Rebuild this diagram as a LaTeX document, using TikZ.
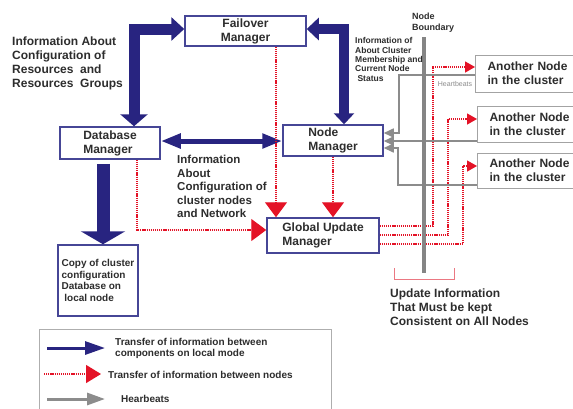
\documentclass[tikz,border=0pt]{standalone}
\usepackage{fontspec}
\setmainfont{Liberation Sans}
\usetikzlibrary{arrows.meta,calc}
\definecolor{navy}{RGB}{40,36,128}
\definecolor{boxblue}{RGB}{70,70,150}
\definecolor{rd}{RGB}{228,18,38}
\definecolor{hbgray}{RGB}{140,140,140}
\definecolor{txt}{RGB}{45,45,45}
\definecolor{brk}{RGB}{235,120,130}
\tikzset{
  bx/.style={draw=boxblue,line width=1.5bp,fill=white,inner sep=0,text=txt,
     font=\bfseries\fontsize{12bp}{14bp}\selectfont},
  anode/.style={draw=hbgray!80,line width=1bp,fill=white,inner ysep=0,inner xsep=12bp,
     text width=80bp,align=left,text=txt,font=\bfseries\fontsize{12bp}{14bp}\selectfont},
  t12/.style={inner sep=0,align=left,text=txt,font=\bfseries\fontsize{12bp}{13.7bp}\selectfont},
  t115/.style={inner sep=0,align=left,text=txt,font=\bfseries\fontsize{11.5bp}{13.5bp}\selectfont},
  t10/.style={inner sep=0,align=left,text=txt,font=\bfseries\fontsize{10bp}{11.4bp}\selectfont},
  t9/.style={inner sep=0,align=left,text=txt,font=\bfseries\fontsize{9bp}{11bp}\selectfont},
  t85/.style={inner sep=0,align=left,text=txt,font=\bfseries\fontsize{8.5bp}{9.3bp}\selectfont},
  bigblue/.style={draw=navy,line width=#1,line join=miter},
  reddot/.style={draw=rd,line width=1.3bp,dash pattern=on 1.2bp off 0.9bp},
  bighead/.style={-{Triangle[width=22bp,length=15bp,fill=rd]}},
  smallhead/.style={-{Triangle[width=11bp,length=10bp,fill=rd]}},
  hb/.style={draw=hbgray,line width=1.6bp,-{Triangle[width=9bp,length=10bp]}},
}
\begin{document}
\begin{tikzpicture}[x=1bp,y=-1bp]
\useasboundingbox[fill=white] (0,0) rectangle (573,408);

% boxes
\node[bx,minimum width=121bp,minimum height=30bp,align=center] (fm) at (245.5,31) {Failover\\Manager};
\node[bx,minimum width=100bp,minimum height=32bp,align=left] (dm) at (110,143) {Database\\Manager};
\node[bx,minimum width=100bp,minimum height=31bp,align=left] (nm) at (333,140.5) {Node\\Manager};
\node[bx,minimum width=112bp,minimum height=35bp,align=left] (gum) at (323,235.5) {Global Update\\Manager};
\node[bx,minimum width=80bp,minimum height=71bp,align=left,font=\bfseries\fontsize{10bp}{11.4bp}\selectfont] (cp) at (98,280.5) {Copy of cluster\\configuration\\Database on\\\ local node};

\node[anode,minimum height=37bp,anchor=west] (an1) at (475,73.5) {Another Node\\in the cluster};
\node[anode,minimum height=36bp,anchor=west] (an2) at (477,124) {Another Node\\in the cluster};
\node[anode,minimum height=35bp,anchor=west] (an3) at (477,170.5) {Another Node\\in the cluster};

% blue arrows
\draw[bigblue=11bp,{Triangle[width=23bp,length=13bp]}-{Triangle[width=27bp,length=12bp]}]
  ([yshift=2bp]fm.west) -| ([xshift=24bp]dm.north);
\draw[bigblue=10bp,{Triangle[width=22bp,length=12bp]}-{Triangle[width=20bp,length=11bp]}]
  ([yshift=2bp]fm.east) -| ([xshift=11bp]nm.north);
\draw[bigblue=5bp,{Triangle[width=14bp,length=20bp]}-{Triangle[width=14bp,length=20bp]}]
  ([yshift=2bp]dm.east) -- ([yshift=2bp]dm.east -| nm.west);
\draw[bigblue=13bp,-{Triangle[width=44bp,length=13bp]}]
  ([xshift=-7bp,yshift=-4bp]dm.south) coordinate (d1) -- (d1 |- cp.north);

% red dotted arrows
\draw[reddot,bighead] ([xshift=30.5bp]fm.south) coordinate (r1) -- (r1 |- gum.north);
\draw[reddot,bighead] (nm.south) -- (nm.south |- gum.north);
\draw[reddot,bighead] ([xshift=27bp]dm.south) |- ([yshift=5.5bp]gum.west);
\draw[reddot,smallhead] ([yshift=9.5bp]gum.east) -| ([xshift=-42bp,yshift=6.5bp]an1.west) -- ([yshift=6.5bp]an1.west);
\draw[reddot,smallhead] ([yshift=0.5bp]gum.east) -| ([xshift=-29bp,yshift=5bp]an2.west) -- ([yshift=5bp]an2.west);
\draw[reddot,smallhead] ([yshift=-8.5bp]gum.east) -| ([xshift=-14bp,yshift=4.5bp]an3.west) -- ([yshift=4.5bp]an3.west);

% heartbeats
\draw[hb] ([yshift=-1.5bp]an1.west) -| ([xshift=15bp,yshift=7.5bp]nm.east) -- ([yshift=7.5bp]nm.east);
\draw[hb] ([yshift=-17bp]an2.west) -- ([yshift=-17bp]an2.west -| nm.east);
\draw[hb] ([yshift=-14.5bp]an3.west) -| ([xshift=14bp,yshift=-7.5bp]nm.east) -- ([yshift=-7.5bp]nm.east);

% node boundary
\coordinate (nb1) at (424,37);
\coordinate (nb2) at (424,273);
\draw[hbgray!95!black,line width=4bp] (nb1) -- (nb2);
\draw[brk,line width=1bp] (394,268) -- (394,279) -- (454,279) -- (454,268);

% texts
\node[t12,anchor=north west] (t1) at (12,37) {Information About\\Configuration of\\Resources\ \ and\\Resources\ \ Groups};
\node[t115,anchor=north west] (t2) at (177,155) {Information\\About\\Configuration of\\cluster nodes\\and Network};
\node[t85,anchor=north west] (t3) at (355,37.5) {Information of\\About Cluster\\Membership and\\Current Node\\\ Status};
\node[t9,anchor=north west] (t4) at (412,13) {Node\\Boundary};
\node[inner sep=0,text=hbgray,font=\fontsize{7bp}{8bp}\selectfont] (t5) at (455,84) {Heartbeats};
\node[t12,anchor=north west] (t6) at (390,289) {Update Information\\That Must be kept\\Consistent on All Nodes};

% legend
\draw[hbgray!70,line width=1bp] (39,329) rectangle (331,430);
\coordinate (l1a) at (47,348); \coordinate (l1b) at (105,348);
\draw[navy,line width=3bp,-{Triangle[width=13bp,length=20bp]}] (l1a) -- (l1b);
\node[t10,anchor=west] (lt1) at (115,348.5) {Transfer of information between\\components on local mode};
\coordinate (l2a) at (44,374); \coordinate (l2b) at (101,374);
\draw[reddot,-{Triangle[width=18bp,length=15bp,fill=rd]}] (l2a) -- (l2b);
\node[t10,anchor=west] (lt2) at (108,375) {Transfer of information between nodes};
\coordinate (l3a) at (47,399); \coordinate (l3b) at (105,399);
\draw[hbgray,line width=3bp,-{Triangle[width=12bp,length=18bp]}] (l3a) -- (l3b);
\node[t10,anchor=west] (lt3) at (121,399) {Hearbeats};
\end{tikzpicture}
\end{document}
